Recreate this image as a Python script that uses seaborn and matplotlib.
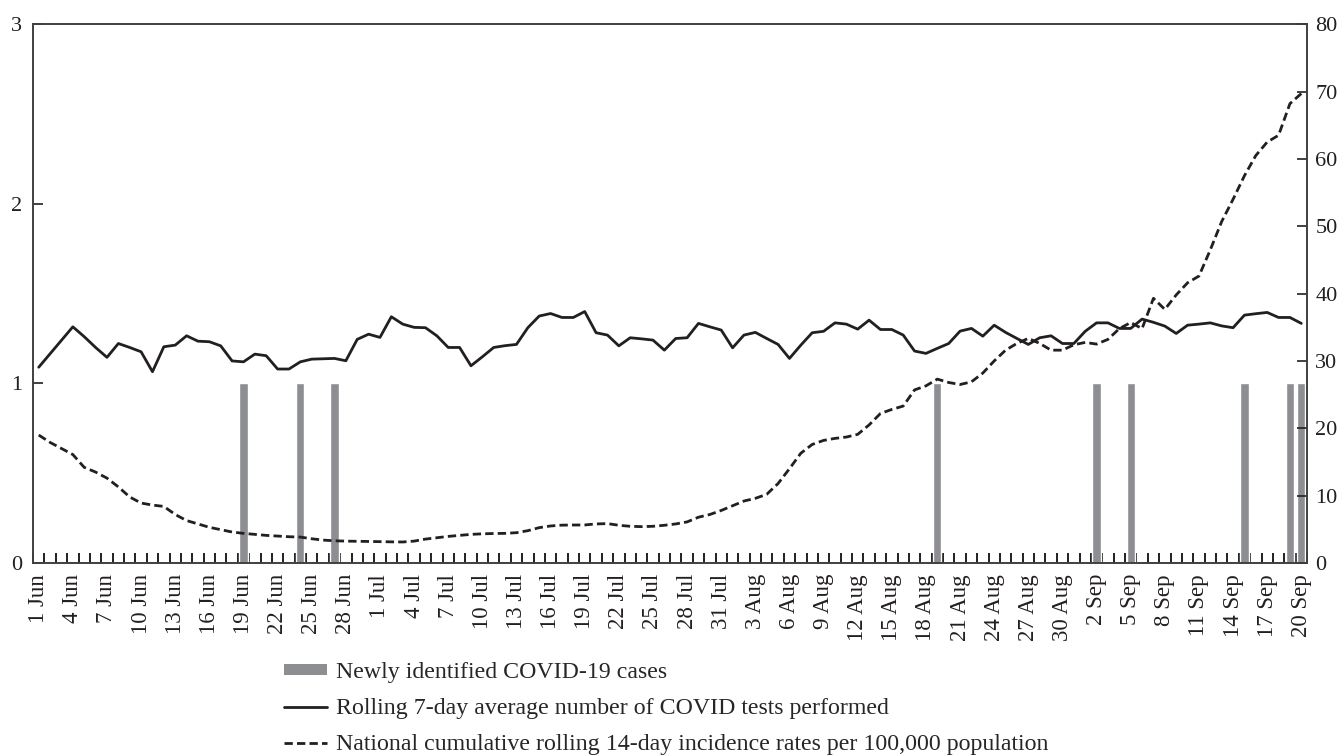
import numpy as np
import pandas as pd
import matplotlib.pyplot as plt
import seaborn as sns
from matplotlib.patches import Patch
from matplotlib.lines import Line2D

# Days on the x axis, 1 Jun - 20 Sep
dates = pd.date_range('2020-06-01', '2020-09-20', freq='D')
day_labels = [f"{d.day} {d.strftime('%b')}" for d in dates]

# Days with newly identified cases (bar height 1)
case_days = ['19 Jun', '24 Jun', '27 Jun', '19 Aug', '2 Sep', '5 Sep', '15 Sep', '19 Sep', '20 Sep']

# Rolling 7-day average number of tests (left axis)
tests_avg = [
    1.09, 1.165, 1.24, 1.315, 1.26, 1.2, 1.145, 1.222, 1.2, 1.176,
    1.065, 1.204, 1.213, 1.265, 1.235, 1.232, 1.209, 1.125, 1.12, 1.163,
    1.154, 1.08, 1.08, 1.12, 1.135, 1.137, 1.139, 1.126, 1.245, 1.274,
    1.256, 1.371, 1.33, 1.312, 1.31, 1.265, 1.2, 1.2, 1.098, 1.148,
    1.2, 1.21, 1.217, 1.31, 1.375, 1.389, 1.367, 1.367, 1.4, 1.282,
    1.269, 1.209, 1.254, 1.248, 1.241, 1.185, 1.25, 1.254, 1.334, 1.315,
    1.297, 1.198, 1.269, 1.284, 1.25, 1.217, 1.139, 1.213, 1.282, 1.29,
    1.337, 1.33, 1.302, 1.352, 1.3, 1.3, 1.269, 1.18, 1.167, 1.195,
    1.222, 1.291, 1.306, 1.263, 1.324, 1.284, 1.25, 1.217, 1.254, 1.265,
    1.222, 1.222, 1.29, 1.337, 1.337, 1.306, 1.306, 1.358, 1.34, 1.319,
    1.278, 1.324, 1.33, 1.337, 1.32, 1.31, 1.38, 1.388, 1.395, 1.367,
    1.367, 1.334,
]

# National 14-day incidence per 100,000 (right axis)
incidence_14d = [
    19.0, 17.9, 17.0, 16.1, 14.2, 13.5, 12.6, 11.3, 9.8, 8.9,
    8.6, 8.4, 7.2, 6.3, 5.8, 5.3, 4.95, 4.6, 4.4, 4.25,
    4.1, 4.0, 3.9, 3.85, 3.6, 3.4, 3.3, 3.25, 3.22, 3.2,
    3.17, 3.14, 3.12, 3.25, 3.55, 3.75, 3.95, 4.1, 4.25, 4.33,
    4.38, 4.4, 4.5, 4.8, 5.25, 5.5, 5.62, 5.64, 5.65, 5.8,
    5.85, 5.6, 5.45, 5.4, 5.45, 5.6, 5.8, 6.1, 6.8, 7.2,
    7.8, 8.5, 9.2, 9.6, 10.2, 11.8, 14.0, 16.3, 17.6, 18.2,
    18.5, 18.7, 19.1, 20.5, 22.2, 22.8, 23.3, 25.7, 26.3, 27.3,
    26.8, 26.5, 26.9, 28.2, 30.0, 31.6, 32.6, 33.35, 32.6, 31.6,
    31.6, 32.4, 32.75, 32.5, 33.2, 34.8, 35.7, 34.8, 39.3, 37.65,
    39.8, 41.6, 42.6, 46.5, 50.7, 54.0, 57.5, 60.5, 62.5, 63.5,
    68.2, 69.7,
]

df = pd.DataFrame({
    'day': day_labels,
    'idx': np.arange(len(day_labels)),
    'cases': [1 if d in case_days else 0 for d in day_labels],
    'tests': tests_avg,
    'incidence': incidence_14d,
})

sns.set_style('ticks')
plt.rcParams['font.family'] = ['Liberation Serif', 'DejaVu Serif']
plt.rcParams['font.size'] = 16

ink = '#231f20'
bar_col = '#8d8e92'
dash = (3.0, 1.5)

fig, ax = plt.subplots(figsize=(13.43, 7.55), dpi=100)
fig.subplots_adjust(left=0.0246, right=0.9732, top=0.968, bottom=0.2543)

sns.barplot(data=df, x='day', y='cases', order=day_labels, ax=ax,
            color=bar_col, saturation=1, width=0.72)
sns.lineplot(data=df, x='idx', y='tests', ax=ax, color=ink, lw=2)

ax2 = ax.twinx()
sns.lineplot(data=df, x='idx', y='incidence', ax=ax2, color=ink, lw=2)
ax2.lines[0].set_dashes(dash)

ax.set_xlim(-0.5, len(day_labels) - 0.5)
ax.set_ylim(0, 3)
ax2.set_ylim(0, 80)
ax.set_yticks([0, 1, 2, 3])
ax2.set_yticks(range(0, 81, 10))

ax.set_xticks(range(0, len(day_labels), 3))
ax.set_xticklabels(day_labels[::3], rotation=90)
ax.set_xticks(np.arange(-0.5, len(day_labels), 1), minor=True)

ax.tick_params(axis='x', which='major', length=0, pad=8, colors=ink, labelsize=16.5)
ax.tick_params(axis='x', which='minor', length=7, direction='in', width=1.4, color=ink)
ax.tick_params(axis='y', direction='in', length=7, width=1.2, pad=8, colors=ink, labelsize=16)
ax2.tick_params(axis='y', direction='in', length=7, width=1.2, pad=6, colors=ink, labelsize=16)

for a in (ax, ax2):
    a.set_xlabel('')
    a.set_ylabel('')
    for s in a.spines.values():
        s.set_color('#404040')
        s.set_linewidth(1.2)

handles = [
    Patch(facecolor=bar_col, edgecolor='none'),
    Line2D([0], [0], color=ink, lw=2),
    Line2D([0], [0], color=ink, lw=2, dashes=dash),
]
labels = [
    'Newly identified COVID-19 cases',
    'Rolling 7-day average number of COVID tests performed',
    'National cumulative rolling 14-day incidence rates per 100,000 population',
]
fig.legend(handles, labels, loc='upper left', bbox_to_anchor=(0.2115, 0.123),
           frameon=False, fontsize=17.2, handlelength=1.8, handletextpad=0.38,
           labelspacing=0.62, borderpad=0, borderaxespad=0, handleheight=0.35)

plt.savefig('out.png', dpi=100)
